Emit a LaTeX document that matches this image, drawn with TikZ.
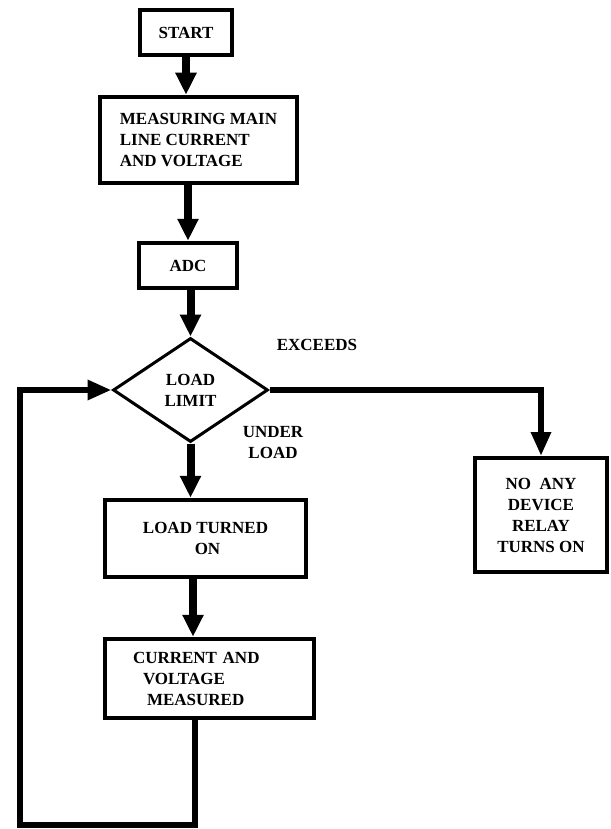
\documentclass[tikz,border=0pt]{standalone}
\usepackage{fontspec}
\setmainfont{Liberation Serif}
\usetikzlibrary{shapes.geometric,arrows.meta}
\newcommand{\flowfont}{\fontsize{17}{21}\selectfont\bfseries}
\begin{document}
\begin{tikzpicture}[x=1pt,y=-1pt,
  box/.style={draw,rectangle,line width=4.5pt,inner sep=0pt,font=\flowfont,align=center},
  decide/.style={draw,diamond,line width=3pt,inner sep=0pt,font=\flowfont,align=center},
  lbl/.style={font=\flowfont,align=center,inner sep=0pt},
  flow/.style={line width=8pt,-{Triangle[width=20pt,length=22pt]}},
  flowthin/.style={line width=6.5pt,-{Triangle[width=19pt,length=24pt]}}]
\fill[white] (0,0) rectangle (610,829);
\useasboundingbox (0,0) rectangle (610,829);
\node[box,minimum width=92pt,minimum height=45pt] (start) at (186,32.5) {START};
\node[box,minimum width=197pt,minimum height=86pt,align=left] (meas) at (198.5,140) {MEASURING MAIN\\LINE CURRENT\\AND VOLTAGE};
\node[box,minimum width=98pt,minimum height=45pt] (adc) at (188,265.5) {ADC};
\node[decide,minimum width=155pt,minimum height=104pt] (dia) at (190.5,390) {LOAD\\LIMIT};
\node[box,minimum width=201pt,minimum height=77pt] (load) at (205.5,538.5) {LOAD TURNED\\\hspace*{4pt}ON};
\node[box,minimum width=209pt,minimum height=79pt,text width=153pt,align=left] (cur) at (209.5,678.5) {CURRENT AND\\\hspace*{10pt}VOLTAGE\\\hspace*{14pt}MEASURED};
\node[box,line width=4pt,minimum width=132pt,minimum height=114pt] (relay) at (541,515) {NO\ \ ANY\\DEVICE\\RELAY\\TURNS ON};
\node[lbl] (exc) at (317,345) {EXCEEDS};
\node[lbl] (und) at (273,443) {UNDER\\LOAD};
\coordinate (c1) at (195,825);
\coordinate (c2) at (20,825);
\coordinate (c3) at (20,390);
\coordinate (mid) at (193,0);
\draw[flow] (start.south) -- (start.south |- meas.north);
\draw[flow] (adc.north |- meas.south) -- (adc.north);
\draw[flow] (dia.north |- adc.south) -- (dia.north);
\draw[flow] (dia.south) -- (dia.south |- load.north);
\draw[flow] (mid |- load.south) -- (mid |- cur.north);
\draw[flowthin] (cur.south -| c1) -- (c1) -- (c2) -- (c3) -- (dia.west);
\draw[flowthin] (dia.east) -- (relay.north |- dia.east) -- (relay.north);
\end{tikzpicture}
\end{document}
